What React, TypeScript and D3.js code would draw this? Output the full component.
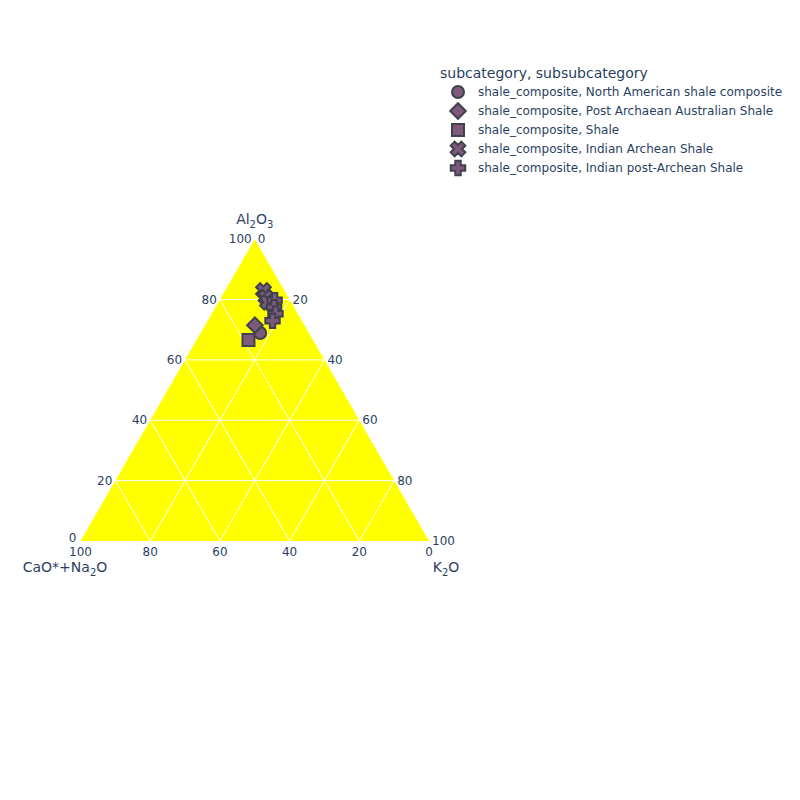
import React, { useEffect, useRef } from 'react';
import * as d3 from 'd3';

// series labels (legend order)
const seriesNames = [
  'shale_composite, North American shale composite',
  'shale_composite, Post Archaean Australian Shale',
  'shale_composite, Shale',
  'shale_composite, Indian Archean Shale',
  'shale_composite, Indian post-Archean Shale',
];
const seriesSymbols = ['circle', 'diamond', 'square', 'x', 'cross'];

// values per series: Al2O3, CaO*+Na2O, K2O (molar %)
const al2o3 = [[68.9], [71.5], [66.6], [82.9, 80.8, 79.1], [79.8, 77.5, 75.3, 73.0]];
const caoNa2o = [[14.0], [14.2], [18.5], [6.0, 6.4, 6.8], [4.4, 5.7, 6.4, 8.4]];
const k2o = [[17.1], [14.3], [14.9], [11.0, 12.8, 14.1], [15.8, 16.8, 18.3, 18.6]];

const tickValues = [0, 20, 40, 60, 80, 100];

const FONT = '"DejaVu Sans", Verdana, sans-serif';
const TEXT = '#2a3f5f';
const FILL = '#7d5a7a';
const STROKE = '#3f4150';

function markerPath(sym: string, r: number): string {
  if (sym === 'circle') {
    return `M${r},0A${r},${r} 0 1,1 0,-${r}A${r},${r} 0 0,1 ${r},0Z`;
  }
  if (sym === 'square') {
    return `M${r},${r}H-${r}V-${r}H${r}Z`;
  }
  if (sym === 'diamond') {
    const rd = r * 1.3;
    return `M${rd},0L0,${rd}L-${rd},0L0,-${rd}Z`;
  }
  const w = r * 0.45;
  const l = r * 1.2;
  const plus: [number, number][] = [
    [l, w], [w, w], [w, l], [-w, l], [-w, w], [-l, w],
    [-l, -w], [-w, -w], [-w, -l], [w, -l], [w, -w], [l, -w],
  ];
  if (sym === 'cross') {
    return 'M' + plus.map((p) => p.join(',')).join('L') + 'Z';
  }
  const c = Math.SQRT1_2;
  const rot = plus.map(([x, y]) => [(x - y) * c * 1.05, (x + y) * c * 1.05]);
  return 'M' + rot.map((p) => p.join(',')).join('L') + 'Z';
}

export default function App() {
  const svgRef = useRef<SVGSVGElement>(null);

  useEffect(() => {
    if (!svgRef.current) return;
    const svg = d3.select(svgRef.current);
    svg.selectAll('*').remove();

    const left = 80.5;
    const right = 429;
    const base = 541;
    const side = right - left;
    const height = (side * Math.sqrt(3)) / 2;

    const yScale = d3.scaleLinear().domain([0, 100]).range([base, base - height]);
    const xScale = d3.scaleLinear().domain([0, 100]).range([left, right]);

    // a = Al2O3 (top), b = CaO*+Na2O (left), c = K2O (right)
    const proj = (a: number, b: number, c: number): [number, number] => {
      const s = a + b + c;
      const an = (a / s) * 100;
      const cn = (c / s) * 100;
      return [xScale(cn + an / 2), yScale(an)];
    };

    const g = svg.append('g');

    const corners = [proj(100, 0, 0), proj(0, 100, 0), proj(0, 0, 100)];
    g.append('path')
      .attr('d', 'M' + corners.map((p) => p.join(',')).join('L') + 'Z')
      .attr('fill', '#ffff00');

    // grid lines
    const grid = tickValues.filter((v) => v > 0 && v < 100);
    const line = (p: [number, number], q: [number, number]) =>
      g.append('line')
        .attr('x1', p[0]).attr('y1', p[1]).attr('x2', q[0]).attr('y2', q[1])
        .attr('stroke', '#ffffff').attr('stroke-width', 1);
    grid.forEach((v) => {
      line(proj(v, 100 - v, 0), proj(v, 0, 100 - v));
      line(proj(0, v, 100 - v), proj(100 - v, v, 0));
      line(proj(100 - v, 0, v), proj(0, 100 - v, v));
    });

    const text = (x: number, y: number, s: string, anchor: string, size = 12) =>
      g.append('text')
        .attr('x', x).attr('y', y)
        .attr('text-anchor', anchor)
        .attr('font-family', FONT)
        .attr('font-size', size)
        .attr('fill', TEXT)
        .text(s);

    // tick labels
    tickValues.forEach((v) => {
      const [ax, ay] = proj(v, 100 - v, 0);
      text(ax - (v === 0 ? 4 : 3), ay + (v === 0 ? 1 : 4), String(v), 'end');
      const [cx, cy] = proj(100 - v, 0, v);
      text(cx + 3, cy + 4, String(v), 'start');
      const [bx] = proj(0, v, 100 - v);
      text(bx, base + 15, String(v), 'middle');
    });

    // axis titles with subscripts
    const title = (x: number, y: number, parts: [string, boolean][]) => {
      const t = g.append('text')
        .attr('x', x).attr('y', y)
        .attr('text-anchor', 'middle')
        .attr('font-family', FONT)
        .attr('font-size', 14)
        .attr('fill', TEXT);
      let shifted = false;
      parts.forEach(([s, sub]) => {
        const dy = sub ? (shifted ? 0 : 4) : shifted ? -4 : 0;
        shifted = sub;
        t.append('tspan')
          .attr('font-size', sub ? 10 : 14)
          .attr('dy', dy)
          .text(s);
      });
    };
    const apex = proj(100, 0, 0);
    title(apex[0], apex[1] - 15, [['Al', false], ['2', true], ['O', false], ['3', true]]);
    title(65, base + 31, [['CaO*+Na', false], ['2', true], ['O', false]]);
    title(446, base + 31, [['K', false], ['2', true], ['O', false]]);

    // markers
    seriesNames.forEach((_, i) => {
      al2o3[i].forEach((a, j) => {
        const [x, y] = proj(a, caoNa2o[i][j], k2o[i][j]);
        g.append('path')
          .attr('d', markerPath(seriesSymbols[i], 6))
          .attr('transform', `translate(${x},${y})`)
          .attr('fill', FILL)
          .attr('stroke', STROKE)
          .attr('stroke-width', 2);
      });
    });

    // legend
    const lg = svg.append('g');
    lg.append('text')
      .attr('x', 440).attr('y', 78)
      .attr('font-family', FONT).attr('font-size', 14).attr('fill', TEXT)
      .text('subcategory, subsubcategory');
    seriesNames.forEach((name, i) => {
      const cy = 92 + i * 19;
      lg.append('path')
        .attr('d', markerPath(seriesSymbols[i], 6))
        .attr('transform', `translate(458,${cy})`)
        .attr('fill', FILL)
        .attr('stroke', STROKE)
        .attr('stroke-width', 2);
      lg.append('text')
        .attr('x', 478).attr('y', cy + 4)
        .attr('font-family', FONT).attr('font-size', 12).attr('fill', TEXT)
        .text(name);
    });
  }, []);

  return (
    <div style={{ position: 'absolute', left: 0, top: 0 }}>
      <svg ref={svgRef} width={800} height={800} style={{ display: 'block', background: '#fff' }} />
    </div>
  );
}
